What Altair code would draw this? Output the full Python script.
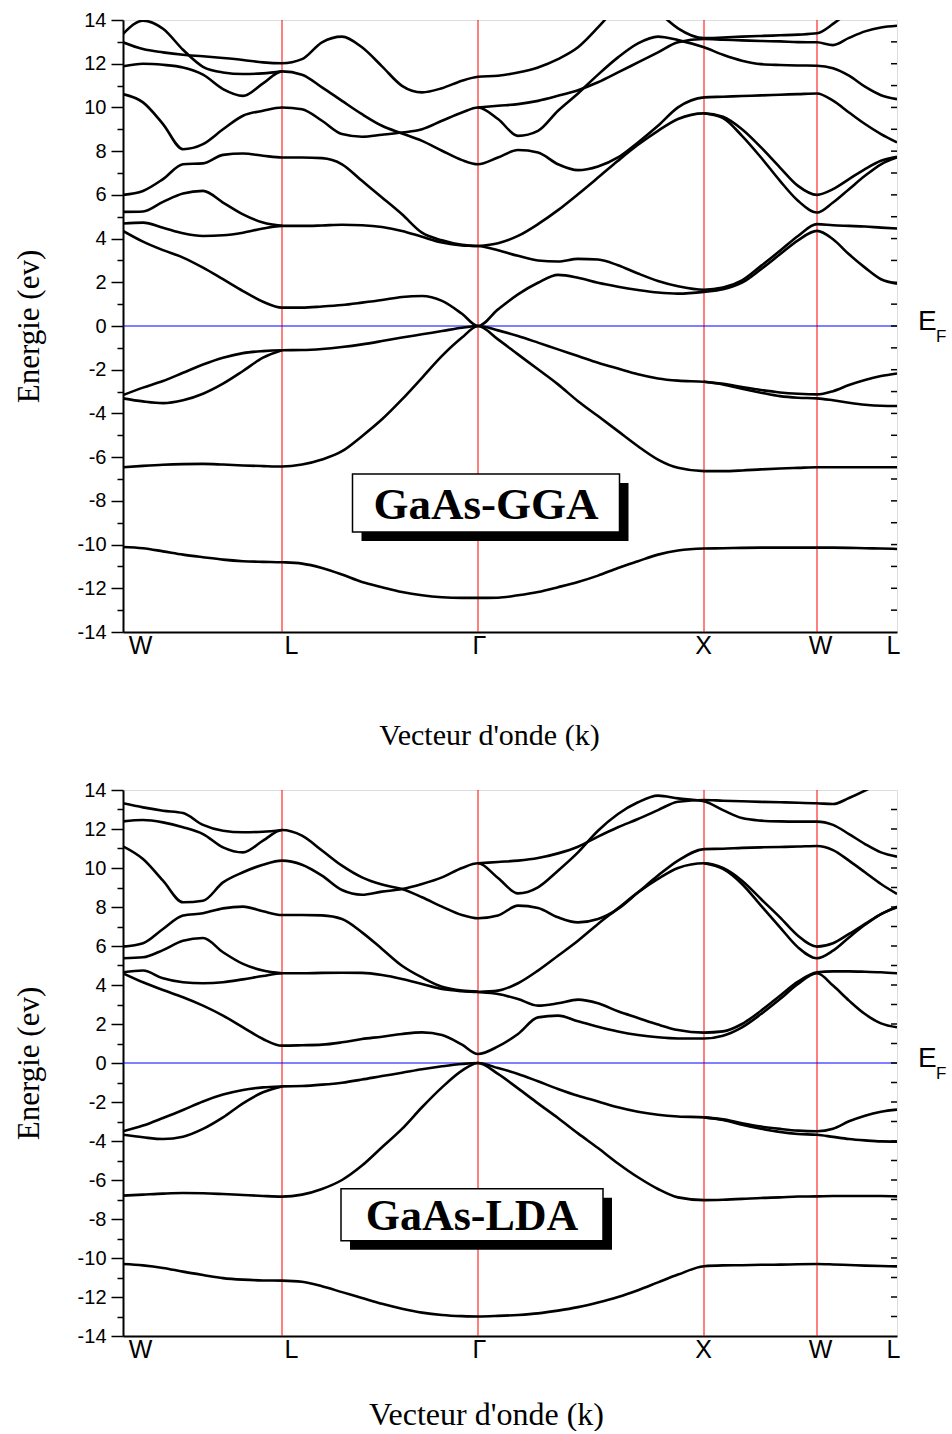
import altair as alt
import pandas as pd

N = None

# k-path abscissa (arbitrary path units), common sampling grid
K = [0, 20, 40, 60, 80, 100, 120, 140, 159,
     179, 199, 219, 239, 259, 279, 299, 319, 339, 355,
     375, 395, 415, 435, 455, 475, 495, 515, 535, 555, 581,
     600, 619, 638, 657, 675, 694,
     710, 726, 742, 758, 774]

SYM_K = [0, 159, 355, 581, 694, 774]
SYM_LABELS = ["W", "L", "Γ", "X", "W", "L"]
RIGHT_TICK_E = list(range(-13, 14))

# ---------------- GaAs-GGA bands (eV) ----------------
GGA_A = [4.35, 3.86, 3.47, 3.13, 2.67, 2.14, 1.60, 1.11, 0.84,
         0.84, 0.89, 0.96, 1.07, 1.19, 1.33, 1.37, 1.15, 0.56, 0.00,
         0.76, 1.45, 1.98, 2.34, 2.21, 1.98, 1.80, 1.65, 1.53, 1.48, 1.56,
         1.68, 1.98, 2.60, 3.28, 3.92, 4.35,
         3.97, 3.28, 2.67, 2.14, 1.94]
GGA_B = [4.69, 4.73, 4.50, 4.24, 4.12, 4.15, 4.27, 4.46, 4.58,
         4.58, 4.60, 4.63, 4.61, 4.53, 4.35, 4.08, 3.82, 3.69, 3.66,
         3.47, 3.21, 3.00, 2.95, 3.07, 3.04, 2.78, 2.40, 2.06, 1.82, 1.66,
         1.76, 2.09, 2.75, 3.44, 4.12, 4.66,
         4.61, 4.58, 4.55, 4.50, 4.46]
GGA_C = [5.22, 5.24, 5.68, 6.06, 6.18, 5.65, 5.11, 4.73, 4.58,
         N, N, N, N, N, N, N, N, N, 3.66,
         3.79, 4.12, 4.66, 5.30, 6.03, 6.79, 7.56, 8.29, 8.93, 9.47, 9.73,
         9.57, 9.00, 8.17, 7.25, 6.41, 6.00,
         6.26, 6.72, 7.18, 7.56, 7.74]
GGA_D = [6.00, 6.18, 6.72, 7.40, 7.44, 7.83, 7.89, 7.79, 7.71,
         7.71, 7.68, 7.40, 6.64, 5.88, 5.11, 4.27, 3.92, 3.71, 3.66,
         N, N, N, N, N, N, N, N, N, N, 9.73,
         9.51, 8.70, 7.71, 6.64, 5.73, 5.19,
         5.65, 6.26, 6.87, 7.40, 7.71]
GGA_E = [10.61, 10.23, 9.24, 8.09, 8.32, 9.00, 9.62, 9.85, 10.00,
         9.92, 9.39, 8.78, 8.66, 8.75, 8.85, 9.00, 9.39, 9.77, 10.00,
         9.47, 8.70, 8.93, 9.85, 10.64, 11.50, 12.29, 12.93, 13.24, 13.08, 12.75,
         12.41, 12.14, 11.98, 11.94, 11.92, 11.91,
         11.79, 11.45, 10.95, 10.56, 10.38]
GGA_F = [11.88, 12.00, 11.95, 11.83, 11.50, 10.84, 10.53, 11.10, 11.65,
         11.50, 10.92, 10.30, 9.69, 9.16, 8.81, 8.47, 8.02, 7.59, 7.40,
         7.71, 8.05, 7.94, 7.40, 7.13, 7.30, 7.71, 8.40, 9.16, 10.00, 10.46,
         10.49, 10.52, 10.55, 10.58, 10.61, 10.64,
         10.31, 9.77, 9.24, 8.78, 8.40]
GGA_G = [12.98, 12.67, 12.52, 12.41, 12.34, 12.26, 12.17, 12.06, 12.02,
         12.21, 12.98, 13.24, 12.75, 11.88, 10.99, 10.69, 10.88, 11.22, 11.40,
         11.45, 11.60, 11.83, 12.21, 12.75, 13.66, 14.70, N, N, N, N,
         N, N, N, N, N, N,
         N, N, N, N, N]
GGA_H = [N, N, N, N, N, N, N, N, N,
         N, N, N, N, N, N, N, N, N, 10.00,
         10.08, 10.15, 10.30, 10.53, 10.79, 11.15, 11.60, 12.06, 12.52, 12.98, 13.13,
         13.10, 13.07, 13.04, 13.02, 12.99, 12.98,
         12.85, 13.18, 13.48, 13.66, 13.74]
GGA_I = [N, N, N, N, N, N, N, N, N,
         N, N, N, N, N, N, N, N, N, N,
         N, N, N, N, N, N, N, N, 14.40, 13.62, 13.17,
         13.20, 13.24, 13.27, 13.30, 13.33, 13.39,
         13.82, 14.40, N, N, N]
GGA_J = [13.36, 13.97, 13.60, 12.64, 11.86, 11.60, 11.53, 11.56, 11.65,
         N, N, N, N, N, N, N, N, N, N,
         N, N, N, N, N, N, N, N, N, N, N,
         N, N, N, N, N, N,
         N, N, N, N, N]
GGA_V1 = [-3.16, -2.82, -2.52, -2.14, -1.76, -1.45, -1.24, -1.15, -1.11,
          -1.10, -1.05, -0.96, -0.84, -0.69, -0.53, -0.38, -0.23, -0.08, 0.00,
          -0.20, -0.46, -0.76, -1.07, -1.37, -1.68, -1.95, -2.21, -2.40, -2.50, -2.55,
          -2.64, -2.79, -2.93, -3.04, -3.10, -3.13,
          -2.98, -2.70, -2.47, -2.29, -2.17]
GGA_V2 = [-3.31, -3.45, -3.53, -3.40, -3.10, -2.64, -2.06, -1.45, -1.11,
          N, N, N, N, N, N, N, N, N, N,
          N, N, N, N, N, N, N, N, N, N, -2.55,
          -2.67, -2.87, -3.05, -3.21, -3.28, -3.31,
          -3.40, -3.51, -3.60, -3.65, -3.66]
GGA_V3 = [-6.46, -6.40, -6.35, -6.32, -6.31, -6.34, -6.38, -6.41, -6.43,
          -6.34, -6.11, -5.73, -5.04, -4.27, -3.36, -2.37, -1.37, -0.53, 0.00,
          -0.61, -1.30, -1.98, -2.67, -3.44, -4.12, -4.81, -5.50, -6.11, -6.49, -6.64,
          -6.64, -6.61, -6.56, -6.52, -6.49, -6.46,
          -6.46, -6.46, -6.46, -6.46, -6.46]
GGA_V4 = [-10.11, -10.17, -10.31, -10.46, -10.58, -10.69, -10.76, -10.79, -10.81,
          -10.87, -11.07, -11.37, -11.71, -11.95, -12.17, -12.32, -12.41, -12.44, -12.44,
          -12.43, -12.32, -12.17, -11.95, -11.71, -11.42, -11.07, -10.76, -10.46, -10.27, -10.18,
          -10.17, -10.15, -10.14, -10.14, -10.14, -10.14,
          -10.14, -10.15, -10.17, -10.18, -10.20]

# ---------------- GaAs-LDA bands (eV) ----------------
LDA_A = [4.60, 4.14, 3.74, 3.37, 2.94, 2.43, 1.83, 1.23, 0.89,
         0.91, 0.94, 1.06, 1.23, 1.35, 1.49, 1.57, 1.44, 0.94, 0.46,
         0.85, 1.49, 2.34, 2.43, 2.14, 1.86, 1.62, 1.44, 1.32, 1.26, 1.26,
         1.40, 1.83, 2.51, 3.28, 4.05, 4.60,
         3.97, 3.20, 2.51, 2.03, 1.83]
LDA_B = [4.65, 4.74, 4.34, 4.14, 4.09, 4.14, 4.29, 4.46, 4.60,
         4.60, 4.62, 4.63, 4.62, 4.51, 4.31, 4.05, 3.79, 3.68, 3.64,
         3.54, 3.28, 2.94, 3.06, 3.25, 3.06, 2.65, 2.31, 1.97, 1.69, 1.56,
         1.62, 2.00, 2.68, 3.45, 4.17, 4.65,
         4.70, 4.70, 4.68, 4.65, 4.60]
LDA_C = [5.37, 5.42, 5.79, 6.27, 6.41, 5.68, 5.08, 4.74, 4.60,
         N, N, N, N, N, N, N, N, N, 3.64,
         3.71, 4.09, 4.74, 5.50, 6.27, 7.13, 7.93, 8.75, 9.44, 10.00, 10.24,
         10.00, 9.35, 8.41, 7.47, 6.53, 5.97,
         6.14, 6.62, 7.13, 7.64, 8.02]
LDA_D = [5.97, 6.14, 6.87, 7.56, 7.68, 7.93, 8.02, 7.78, 7.59,
         7.59, 7.57, 7.38, 6.70, 5.85, 4.99, 4.39, 3.91, 3.71, 3.66,
         N, N, N, N, N, N, N, N, N, N, 10.24,
         9.95, 9.18, 8.07, 6.96, 5.93, 5.37,
         5.76, 6.44, 7.09, 7.64, 7.98]
LDA_E = [11.11, 10.46, 9.35, 8.24, 8.32, 9.26, 9.78, 10.17, 10.38,
         10.17, 9.61, 8.87, 8.63, 8.79, 8.92, 9.18, 9.52, 10.00, 10.24,
         9.49, 8.70, 9.01, 9.86, 10.80, 11.91, 12.77, 13.37, 13.71, 13.57, 13.42,
         12.97, 12.56, 12.43, 12.39, 12.38, 12.38,
         12.21, 11.74, 11.23, 10.80, 10.58]
LDA_F = [12.39, 12.46, 12.34, 12.09, 11.74, 11.06, 10.80, 11.40, 11.95,
         11.66, 10.90, 10.12, 9.52, 9.15, 8.92, 8.50, 8.02, 7.59, 7.42,
         7.56, 8.07, 7.95, 7.47, 7.21, 7.38, 7.90, 8.75, 9.61, 10.38, 10.97,
         10.99, 11.03, 11.06, 11.08, 11.10, 11.13,
         10.92, 10.38, 9.78, 9.18, 8.67]
LDA_G = [13.32, 13.11, 12.94, 12.82, 12.21, 11.91, 11.83, 11.86, 11.95,
         N, N, N, N, N, N, N, N, N, N,
         N, N, N, N, N, N, N, N, N, N, N,
         N, N, N, N, N, N,
         N, N, N, N, N]
LDA_H = [N, N, N, N, N, N, N, N, N,
         N, N, N, N, N, N, N, N, N, 10.24,
         10.31, 10.38, 10.51, 10.75, 11.09, 11.61, 12.09, 12.51, 12.97, 13.40, 13.49,
         13.45, 13.42, 13.39, 13.37, 13.35, 13.32,
         13.28, 13.59, 13.97, 14.40, N]
LDA_V1 = [-3.50, -3.21, -2.82, -2.41, -1.97, -1.62, -1.38, -1.25, -1.20,
          -1.18, -1.11, -1.01, -0.85, -0.67, -0.50, -0.32, -0.17, -0.05, 0.00,
          -0.26, -0.56, -0.94, -1.33, -1.68, -1.97, -2.27, -2.50, -2.65, -2.74, -2.79,
          -2.89, -3.09, -3.26, -3.38, -3.47, -3.50,
          -3.37, -2.99, -2.70, -2.50, -2.39]
LDA_V2 = [-3.68, -3.81, -3.90, -3.78, -3.38, -2.79, -2.07, -1.50, -1.20,
          N, N, N, N, N, N, N, N, N, N,
          N, N, N, N, N, N, N, N, N, N, -2.79,
          -2.92, -3.16, -3.37, -3.54, -3.64, -3.68,
          -3.79, -3.90, -3.97, -4.02, -4.03]
LDA_V3 = [-6.80, -6.75, -6.70, -6.67, -6.68, -6.72, -6.77, -6.82, -6.85,
          -6.75, -6.46, -6.00, -5.26, -4.32, -3.38, -2.27, -1.25, -0.39, 0.00,
          -0.56, -1.30, -2.07, -2.82, -3.61, -4.36, -5.15, -5.86, -6.46, -6.89, -7.03,
          -7.01, -6.97, -6.92, -6.89, -6.85, -6.84,
          -6.82, -6.82, -6.82, -6.82, -6.84]
LDA_V4 = [-10.31, -10.38, -10.51, -10.70, -10.87, -11.03, -11.11, -11.15, -11.16,
          -11.22, -11.45, -11.75, -12.05, -12.35, -12.60, -12.80, -12.92, -12.98, -13.00,
          -12.97, -12.92, -12.84, -12.70, -12.52, -12.28, -12.00, -11.65, -11.25, -10.85, -10.42,
          -10.38, -10.37, -10.35, -10.34, -10.32, -10.31,
          -10.33, -10.36, -10.39, -10.41, -10.43]

GGA_BANDS = {"A": GGA_A, "B": GGA_B, "C": GGA_C, "D": GGA_D, "E": GGA_E,
             "F": GGA_F, "G": GGA_G, "H": GGA_H, "I": GGA_I, "J": GGA_J,
             "V1": GGA_V1, "V2": GGA_V2, "V3": GGA_V3, "V4": GGA_V4}
LDA_BANDS = {"A": LDA_A, "B": LDA_B, "C": LDA_C, "D": LDA_D, "E": LDA_E,
             "F": LDA_F, "G": LDA_G, "H": LDA_H,
             "V1": LDA_V1, "V2": LDA_V2, "V3": LDA_V3, "V4": LDA_V4}

GGA_LABEL = {"text": "GaAs-GGA", "k": 363, "E": -8.1}
LDA_LABEL = {"text": "GaAs-LDA", "k": 349, "E": -7.78}


def band_frame(bands):
    rows = []
    for name, vals in bands.items():
        run, gap = 0, True
        for k, e in zip(K, vals):
            if e is None:
                gap = True
                continue
            if gap:
                run += 1
                gap = False
            rows.append({"k": k, "E": e, "line": f"{name}-{run}"})
    return pd.DataFrame(rows)


LABEL_EXPR = " : ".join(f"datum.value == {k} ? '{t}'" for k, t in zip(SYM_K, SYM_LABELS)) + " : ''"
LABEL_SHIFT = {0: 17, 159: 9, 355: 1, 581: -1, 694: 3, 774: -4}


def panel(bands, ann, height, box_w, box_h, font_size, xt_pad, xt_size, xt_x):
    xs = alt.Scale(domain=[K[0], K[-1]], nice=False, zero=False)
    ys = alt.Scale(domain=[-14, 14], nice=False, zero=False)
    x_axis = alt.Axis(
        values=SYM_K, labelExpr=LABEL_EXPR, ticks=False, labelPadding=1,
        labelFont="Liberation Sans", labelFontSize=25, labelColor="black",
        labelFlush=False, labelOverlap=False,
        labelOffset={"condition": [{"test": f"datum.value == {k}", "value": v}
                                   for k, v in LABEL_SHIFT.items()], "value": 0},
        title="Vecteur d'onde (k)", titleFont="Liberation Serif", titleFontSize=xt_size,
        titleFontWeight="normal", titleColor="black", titlePadding=xt_pad,
        titleX=xt_x, titleAlign="center",
        domainColor="black", domainWidth=2, grid=False)
    y_axis = alt.Axis(
        values=list(range(-14, 15)),
        labelExpr="datum.value % 2 == 0 ? '' + datum.value : ''",
        tickSize={"condition": {"test": "datum.value % 2 == 0", "value": 12}, "value": 6},
        tickColor="black", tickWidth=1.5, labelPadding=5,
        labelFont="Liberation Sans", labelFontSize=20, labelColor="black",
        labelOverlap=False,
        title="Energie (ev)", titleFont="Liberation Serif", titleFontSize=31,
        titleFontWeight="normal", titleColor="black", titlePadding=32,
        domainColor="black", domainWidth=2, grid=False)

    def X(field="k:Q"):
        return alt.X(field, scale=xs, axis=x_axis)

    def Y(field="E:Q"):
        return alt.Y(field, scale=ys, axis=y_axis)

    sym = pd.DataFrame({"k": SYM_K[1:-1]})
    zero = pd.DataFrame({"E": [0]})
    rticks = pd.DataFrame({"E": RIGHT_TICK_E})
    ann_df = pd.DataFrame([ann])
    ef = pd.DataFrame({"k": [K[-1]], "E": [0]})

    red = alt.Chart(sym).mark_rule(color="#ff0000", strokeWidth=1).encode(x=X())
    fermi = alt.Chart(zero).mark_rule(color="#0000ff", strokeWidth=1).encode(y=Y())
    right_ticks = alt.Chart(rticks).mark_rule(color="black", strokeWidth=1.5, xOffset=-6).encode(
        x=alt.X(datum=K[-1], scale=xs, axis=x_axis), x2=alt.X2(datum=K[-1]), y=Y())
    lines = alt.Chart(band_frame(bands)).mark_line(
        color="black", strokeWidth=2.6, interpolate="monotone", clip=True
    ).encode(x=X(), y=Y(), detail="line:N", order="k:Q")
    shadow = alt.Chart(ann_df).mark_rect(
        width=box_w, height=box_h, color="black", xOffset=9, yOffset=9
    ).encode(x=X(), y=Y())
    box = alt.Chart(ann_df).mark_rect(
        width=box_w, height=box_h, fill="white", stroke="black", strokeWidth=1.5
    ).encode(x=X(), y=Y())
    txt = alt.Chart(ann_df).mark_text(
        font="Liberation Serif", fontSize=font_size, fontWeight="bold", color="black",
        baseline="middle", align="center", dy=2
    ).encode(x=X(), y=Y(), text="text:N")
    ef_e = alt.Chart(ef).mark_text(
        text="E", font="Liberation Sans", fontSize=28, align="left", baseline="alphabetic",
        dx=21, dy=4, color="black"
    ).encode(x=X(), y=Y())
    ef_f = alt.Chart(ef).mark_text(
        text="F", font="Liberation Sans", fontSize=17, align="left", baseline="alphabetic",
        dx=39, dy=16, color="black"
    ).encode(x=X(), y=Y())

    return alt.layer(red, fermi, right_ticks, lines, shadow, box, txt, ef_e, ef_f).properties(
        width=774, height=height)


top = panel(GGA_BANDS, GGA_LABEL, 612, 267, 58, 45, 62, 30, 366)
bottom = panel(LDA_BANDS, LDA_LABEL, 546, 262, 52, 44, 37, 32, 363)

chart = alt.vconcat(top, bottom, spacing=28).properties(
    padding={"left": 12, "top": 9, "right": 0, "bottom": 0}
).configure_view(stroke="black", strokeWidth=2).configure(background="white")

chart.save("out.html", embed_options={"renderer": "svg", "actions": False})
